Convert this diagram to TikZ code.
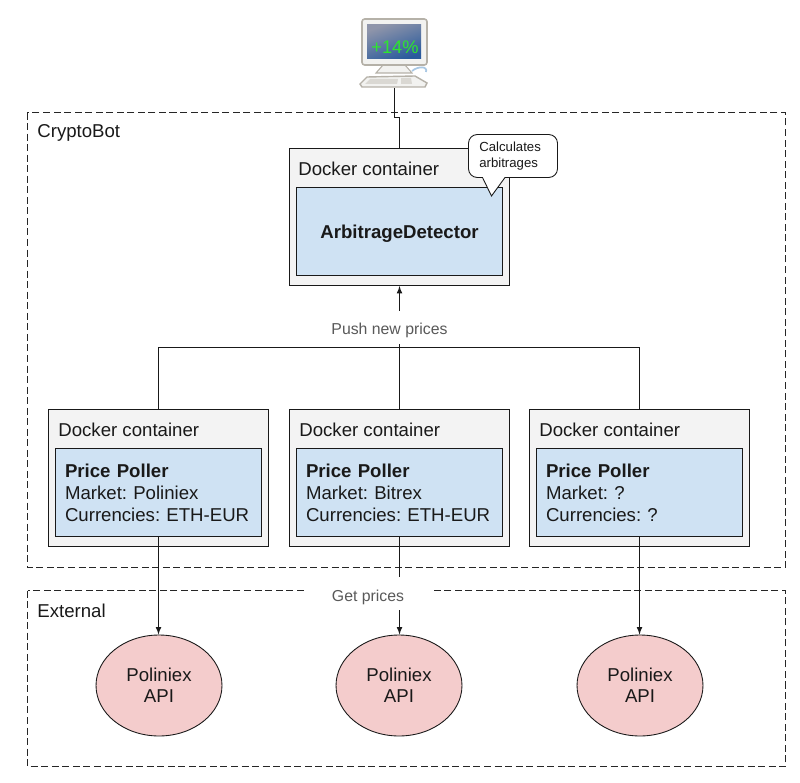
\documentclass[tikz,border=0pt]{standalone}
\usepackage{fontspec}
\setmainfont{Liberation Sans}
\usetikzlibrary{shapes.geometric}

\definecolor{boxgray}{HTML}{F3F3F3}
\definecolor{pollerblue}{HTML}{CFE2F3}
\definecolor{apired}{HTML}{F4CCCC}
\definecolor{labelgray}{HTML}{595959}
\definecolor{screentop}{HTML}{8F95AA}
\definecolor{screenbot}{HTML}{2A5A9C}
\definecolor{casegray}{HTML}{B5B1A8}
\definecolor{caselight}{HTML}{F2F2F0}
\definecolor{cableblue}{HTML}{A9C8E4}
\definecolor{plusgreen}{HTML}{2EE62E}

\tikzstyle{every node}=[font=\frenchspacing\fontsize{10.6}{12.5}\selectfont,text=black!90]
\tikzstyle{zone} = [draw=black!85,line width=0.5pt,dash pattern=on 4pt off 2pt]
\tikzstyle{container} = [rectangle,draw=black!90,fill=boxgray,line width=0.5pt,minimum width=4.4cm,minimum height=2.74cm]
\tikzstyle{poller} = [rectangle,draw=black!90,fill=pollerblue,line width=0.5pt,minimum width=4.12cm,minimum height=1.76cm,text width=3.74cm,align=left,inner sep=0pt]
\tikzstyle{api} = [ellipse,draw=black!90,fill=apired,line width=0.5pt,minimum width=2.52cm,minimum height=2.02cm,align=center,inner sep=0pt,font=\fontsize{10.6}{12}\selectfont]
\tikzstyle{graylabel} = [fill=white,text=labelgray,inner sep=0pt,font=\fontsize{9}{11}\selectfont]
\tikzstyle{link} = [draw=black!90,line width=0.5pt]

\begin{document}
\begin{tikzpicture}[x=0.02cm,y=-0.02cm]
		\useasboundingbox (0,0) rectangle (800,783);
		% zones
		\draw[zone] (27.5,112.5) rectangle (785.5,567.5);
		\draw[zone] (27.5,590.5) rectangle (785.5,766.5);
		\node[anchor=west] (cryptobot) at (37,133) [inner sep=0pt] {CryptoBot};
		\node[anchor=west] (external) at (37,611) [inner sep=0pt] {External};
		% monitor
		\draw[cableblue,line width=1pt] (412,71) .. controls (418,66) and (428,66) .. (426,72);
		\draw[casegray,fill=caselight,line width=0.6pt] (376,73) -- (383,65) -- (405,65) -- (412,73) -- cycle;
		\draw[casegray,fill=caselight,line width=0.8pt] (367,77) -- (415,76) -- (427,83) -- (425,87) -- (362,87) -- (360,84) -- cycle;
		\fill[casegray!50] (370,79) -- (398,79) -- (397,84) -- (365,84) -- cycle;
		\fill[casegray!50] (401,78) -- (411,78) -- (412,84) -- (401,84) -- cycle;
		\draw[casegray,fill=caselight,line width=0.9pt,rounded corners=1.5pt] (362,19) rectangle (427,65);
		\shade[top color=screentop,bottom color=screenbot,shading angle=20] (367,25) rectangle (421,59);
		\node (gain) at (395,47) [text=plusgreen,inner sep=0pt,font=\fontsize{10.4}{12}\selectfont] {+14\%};
		\coordinate (monitor) at (394.5,88);
		\coordinate (jog) at (394.5,117.5);
		% top container
		\node[container] (dockerA) at (399.5,217) {};
		\node[anchor=west] (dockerAtext) at (298,168.5) [inner sep=0pt] {Docker container};
		\node[poller] (detector) at (399.5,231.5) {};
		\node (detectortext) at (399.5,233.5) [inner sep=0pt] {\textbf{ArbitrageDetector}};
		% callout
		\draw[fill=white,draw=black!90,line width=0.5pt,rounded corners=5pt] (491.5,196) [sharp corners] -- (482.5,177.5) [rounded corners=5pt] -- (468.5,177.5) -- (468.5,134.5) -- (557.5,134.5) -- (557.5,177.5) [sharp corners] -- (505,177.5) -- cycle;
		\node[anchor=west,align=left,inner sep=0pt,font=\fontsize{7.5}{9}\selectfont] (calc) at (479,156) {Calculates\\arbitrages};
		% pollers
		\node[container] (dockerB) at (158.5,478) {};
		\node[container] (dockerC) at (399.5,478) {};
		\node[container] (dockerD) at (639.5,478) {};
		\node[anchor=west] (dockerBtext) at (58,429.5) [inner sep=0pt] {Docker container};
		\node[anchor=west] (dockerCtext) at (299,429.5) [inner sep=0pt] {Docker container};
		\node[anchor=west] (dockerDtext) at (539,429.5) [inner sep=0pt] {Docker container};
		\node[poller] (pollerB) at (158.5,492.5) {\textbf{Price Poller}\\Market: Poliniex\\Currencies: ETH-EUR};
		\node[poller] (pollerC) at (399.5,492.5) {\textbf{Price Poller}\\Market: Bitrex\\Currencies: ETH-EUR};
		\node[poller] (pollerD) at (639.5,492.5) {\textbf{Price Poller}\\Market: ?\\Currencies: ?};
		% apis
		\node[api] (apiB) at (159,685.5) {Poliniex\\API};
		\node[api] (apiC) at (399,685.5) {Poliniex\\API};
		\node[api] (apiD) at (640,685.5) {Poliniex\\API};
		% connectors
		\coordinate (pushjoin) at (399.5,347.5);
		\draw[link] (monitor) -- (jog) -| (dockerA.north);
		\draw[link] (dockerB.north) |- (pushjoin);
		\draw[link] (dockerD.north) |- (pushjoin);
		\draw[link] (dockerC.north) -- (pushjoin);
		\draw[link,->,>=latex] (pushjoin) -- (dockerA.south);
		\draw[link,->,>=latex] (pollerB.south) -- (pollerB.south |- apiB.north);
		\draw[link,->,>=latex] (pollerC.south) -- (pollerC.south |- apiC.north);
		\draw[link,->,>=latex] (pollerD.south) -- (pollerD.south |- apiD.north);
		% labels over the lines
		\node[graylabel,minimum width=2.5cm,minimum height=0.68cm,text height=9.8pt] (pushlabel) at (389.5,327.5) {Push new prices};
		\node[graylabel,minimum width=2.56cm,minimum height=0.66cm,text height=11.6pt] (getlabel) at (368,593) {Get prices};
\end{tikzpicture}
\end{document}
